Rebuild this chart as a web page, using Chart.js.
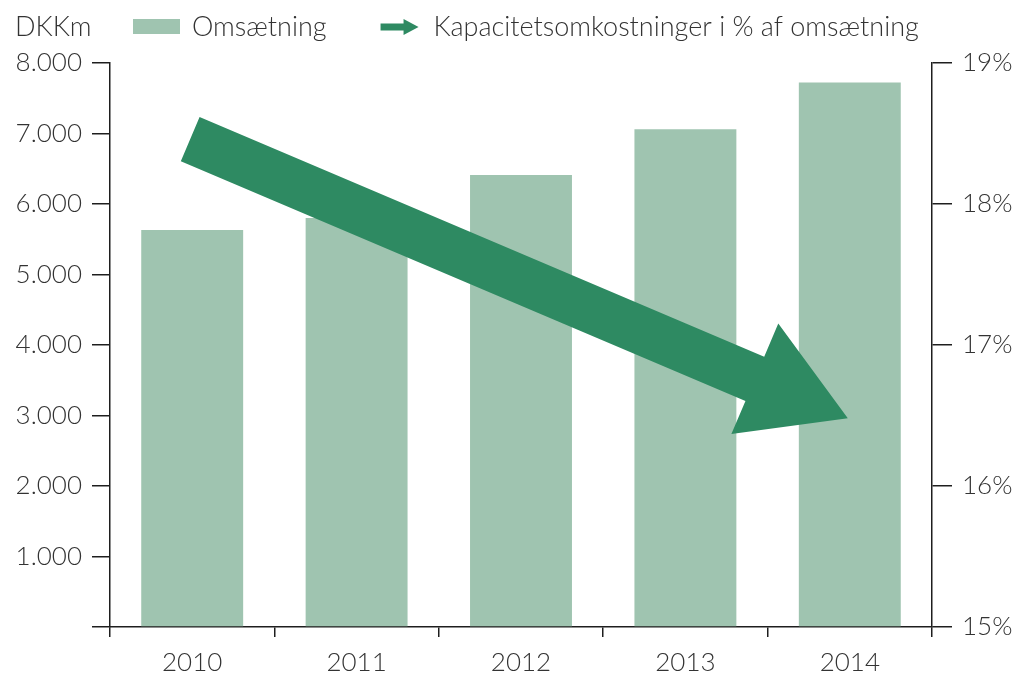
<!DOCTYPE html>
<html>
<head>
<meta charset="utf-8">
<script src="https://cdn.jsdelivr.net/npm/chart.js@4/dist/chart.umd.min.js"></script>
<style>
  html, body { margin: 0; padding: 0; background: #fff; }
  #wrap { width: 1013px; height: 677px; }
</style>
</head>
<body>
<div id="wrap"><canvas id="chart" width="1013" height="677"></canvas></div>
<script>
const years = ['2010', '2011', '2012', '2013', '2014'];
const omsaetning = [5630, 5800, 6410, 7060, 7725];
// start and end of the arrow, read on the right axis (%)
const kapacitetPct = [18.46, null, null, null, 16.48];
const leftTicks = [0, 1000, 2000, 3000, 4000, 5000, 6000, 7000, 8000];
const rightTicks = [15, 16, 17, 18, 19];

const unitLabel = 'DKKm';
const seriesLabels = ['Omsætning', 'Kapacitetsomkostninger i % af omsætning'];

const barColor = '#9fc4b0';
const arrowColor = '#2e8a62';
const textColor = '#333333';
const axisColor = '#1e1e1e';
const fontFamily = 'Lato, "Open Sans", sans-serif';

function drawArrow(ctx, sx, sy, tx, ty, shaftHalf, headLen, headHalf) {
  const dx = tx - sx, dy = ty - sy;
  const len = Math.sqrt(dx * dx + dy * dy);
  const ux = dx / len, uy = dy / len;
  const nx = -uy, ny = ux;
  const bx = tx - ux * headLen, by = ty - uy * headLen;
  ctx.beginPath();
  ctx.moveTo(sx + nx * shaftHalf, sy + ny * shaftHalf);
  ctx.lineTo(bx + nx * shaftHalf, by + ny * shaftHalf);
  ctx.lineTo(bx + nx * headHalf, by + ny * headHalf);
  ctx.lineTo(tx, ty);
  ctx.lineTo(bx - nx * headHalf, by - ny * headHalf);
  ctx.lineTo(bx - nx * shaftHalf, by - ny * shaftHalf);
  ctx.lineTo(sx - nx * shaftHalf, sy - ny * shaftHalf);
  ctx.closePath();
  ctx.fill();
}

// big trend arrow, drawn from the points of the line dataset
const arrowPlugin = {
  id: 'arrowPlugin',
  afterDatasetsDraw(chart) {
    const pts = chart.getDatasetMeta(1).data.filter((p, i) => kapacitetPct[i] != null);
    if (pts.length < 2) return;
    const a = pts[0], b = pts[pts.length - 1];
    const ctx = chart.ctx;
    ctx.save();
    ctx.fillStyle = arrowColor;
    drawArrow(ctx, a.x - 2, a.y, b.x - 2, b.y, 24, 101, 60);
    ctx.restore();
  }
};

// header row: unit + legend
const headerPlugin = {
  id: 'headerPlugin',
  afterDraw(chart) {
    const ctx = chart.ctx;
    const area = chart.chartArea;
    const cy = 27;
    ctx.save();
    ctx.font = '300 27px ' + fontFamily;
    ctx.fillStyle = textColor;
    ctx.textBaseline = 'middle';
    ctx.textAlign = 'left';
    ctx.fillText(unitLabel, 15, cy);

    let x = area.left + 23;
    ctx.fillStyle = barColor;
    ctx.fillRect(x, cy - 8, 47, 15);
    x += 59;
    ctx.fillStyle = textColor;
    ctx.fillText(seriesLabels[0], x, cy);
    x += ctx.measureText(seriesLabels[0]).width + 54;

    ctx.fillStyle = arrowColor;
    ctx.beginPath();
    ctx.moveTo(x, cy - 3.5);
    ctx.lineTo(x + 23, cy - 3.5);
    ctx.lineTo(x + 23, cy - 8);
    ctx.lineTo(x + 38, cy);
    ctx.lineTo(x + 23, cy + 8);
    ctx.lineTo(x + 23, cy + 3.5);
    ctx.lineTo(x, cy + 3.5);
    ctx.closePath();
    ctx.fill();
    x += 53;
    ctx.fillStyle = textColor;
    ctx.fillText(seriesLabels[1], x, cy);
    ctx.restore();
  }
};

const tickFont = { family: fontFamily, size: 26, weight: '300' };

new Chart(document.getElementById('chart').getContext('2d'), {
  type: 'bar',
  data: {
    labels: years,
    datasets: [
      {
        label: seriesLabels[0],
        data: omsaetning,
        backgroundColor: barColor,
        borderWidth: 0,
        categoryPercentage: 1,
        barPercentage: 0.62,
        yAxisID: 'y',
        order: 2
      },
      {
        type: 'line',
        label: seriesLabels[1],
        data: kapacitetPct,
        yAxisID: 'y1',
        showLine: false,
        pointRadius: 0,
        pointHoverRadius: 0,
        order: 1
      }
    ]
  },
  options: {
    responsive: false,
    animation: false,
    layout: { padding: { top: 63, left: 0, right: 0, bottom: 0 } },
    plugins: {
      legend: { display: false },
      tooltip: { enabled: false },
      title: { display: false }
    },
    scales: {
      x: {
        offset: true,
        grid: {
          offset: true,
          drawOnChartArea: false,
          drawTicks: true,
          tickLength: 10,
          color: axisColor,
          lineWidth: 1.5
        },
        border: { display: true, color: axisColor, width: 1.5 },
        ticks: { font: tickFont, color: textColor, padding: 10 },
        afterFit(scale) { scale.height = 50; }
      },
      y: {
        position: 'left',
        min: 0,
        max: 8000,
        afterBuildTicks(scale) { scale.ticks = leftTicks.map(v => ({ value: v })); },
        grid: {
          drawOnChartArea: false,
          drawTicks: true,
          tickLength: 18,
          color: axisColor,
          lineWidth: 1.5
        },
        border: { display: true, color: axisColor, width: 1.5 },
        ticks: {
          font: tickFont,
          color: textColor,
          padding: 10,
          callback: v => v === 0 ? '' : v.toLocaleString('da-DK')
        },
        afterFit(scale) { scale.width = 110; }
      },
      y1: {
        position: 'right',
        min: 15,
        max: 19,
        afterBuildTicks(scale) { scale.ticks = rightTicks.map(v => ({ value: v })); },
        grid: {
          drawOnChartArea: false,
          drawTicks: true,
          tickLength: 20,
          color: axisColor,
          lineWidth: 1.5
        },
        border: { display: true, color: axisColor, width: 1.5 },
        ticks: {
          font: tickFont,
          color: textColor,
          padding: 10,
          callback: v => v + '%'
        },
        afterFit(scale) { scale.width = 81; }
      }
    }
  },
  plugins: [arrowPlugin, headerPlugin]
});
</script>
</body>
</html>
